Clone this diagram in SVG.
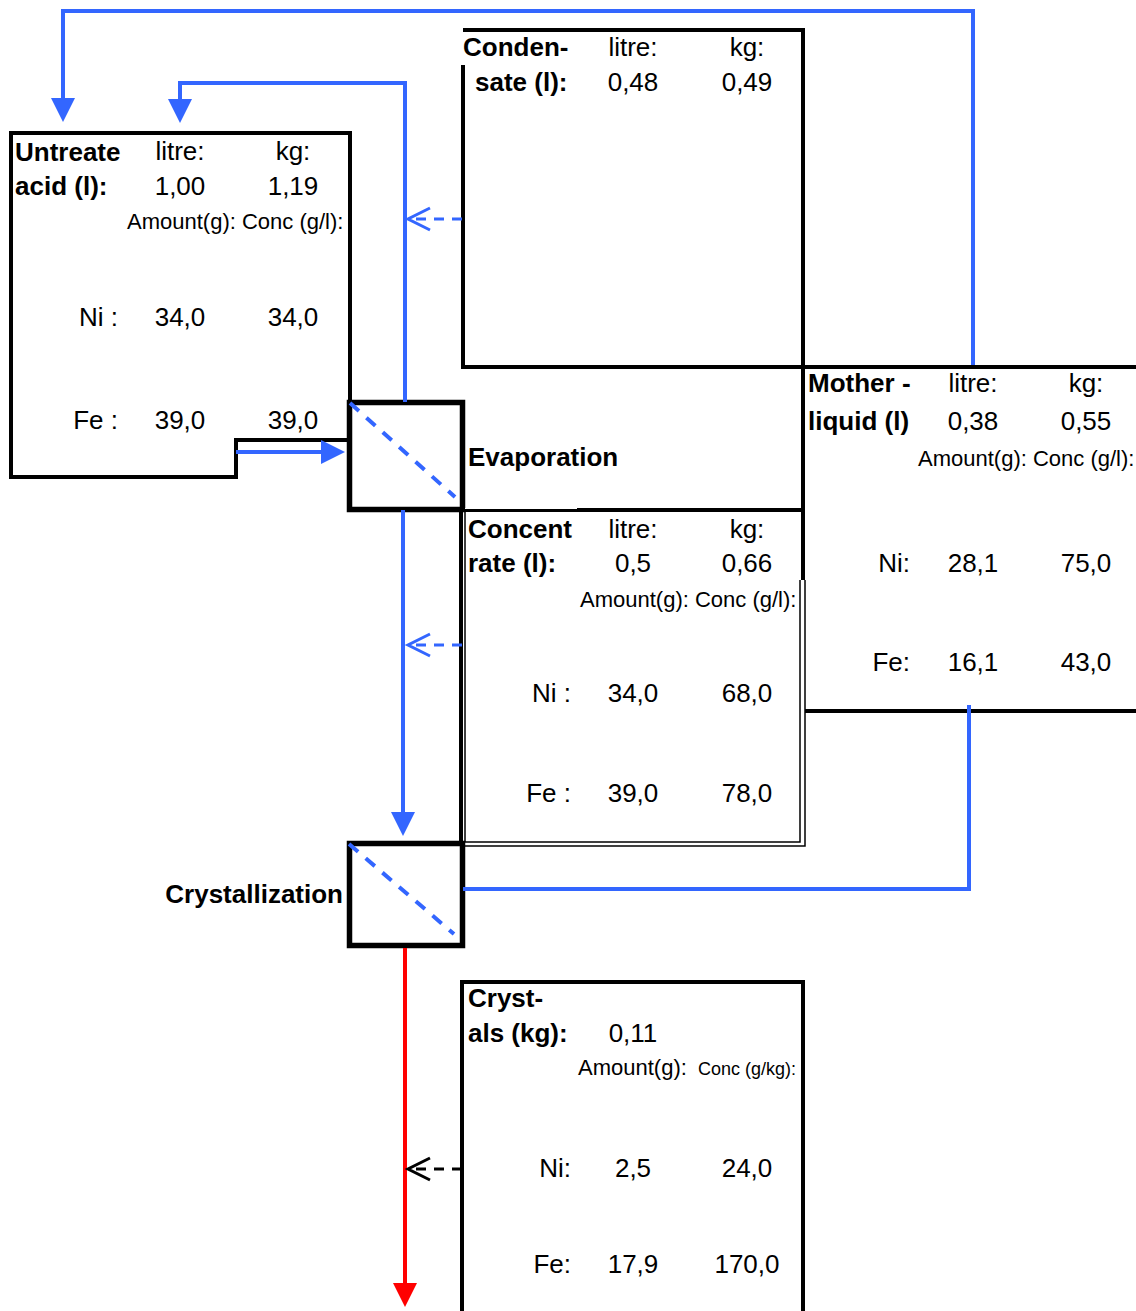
<svg xmlns="http://www.w3.org/2000/svg" width="1136" height="1311" viewBox="0 0 1136 1311">
<style>
text{font-family:"Liberation Sans",Arial,sans-serif;fill:#000}
.b{font-size:26px;font-weight:bold}
.r{font-size:26px}
.s{font-size:22px}
.xs{font-size:18px}
.m{text-anchor:middle}
.e{text-anchor:end}
.box{fill:none;stroke:#000;stroke-width:4}
.thick{fill:none;stroke:#000;stroke-width:5.5}
.thin{fill:none;stroke:#000;stroke-width:1.5}
.bl{fill:none;stroke:#3366FF;stroke-width:4}
.bld{fill:none;stroke:#3366FF;stroke-width:3;stroke-dasharray:10 8}
.diag{fill:none;stroke:#3366FF;stroke-width:4;stroke-dasharray:12 10}
.blh{fill:#3366FF}
.oh{fill:none;stroke:#3366FF;stroke-width:3}
</style>
<rect width="1136" height="1311" fill="#fff"/>

<g id="untreated-acid">
<path class="box" d="M11,133 H350 V440 H236 V477 H11 Z"/>
<text class="b" x="15" y="161">Untreate</text>
<text class="b" x="15" y="195">acid (l):</text>
<text class="r m" x="180" y="160">litre:</text>
<text class="r m" x="293" y="160">kg:</text>
<text class="r m" x="180" y="195">1,00</text>
<text class="r m" x="293" y="195">1,19</text>
<text class="s" x="127" y="229">Amount(g): Conc (g/l):</text>
<text class="r e" x="118" y="326">Ni :</text>
<text class="r m" x="180" y="326">34,0</text>
<text class="r m" x="293" y="326">34,0</text>
<text class="r e" x="118" y="429">Fe :</text>
<text class="r m" x="180" y="429">39,0</text>
<text class="r m" x="293" y="429">39,0</text>
</g>

<g id="condensate">
<path class="box" d="M463,65 V367 H803 V30 H463"/>
<text class="b" x="463" y="56">Conden-</text>
<text class="b" x="475" y="91">sate (l):</text>
<text class="r m" x="633" y="56">litre:</text>
<text class="r m" x="747" y="56">kg:</text>
<text class="r m" x="633" y="91">0,48</text>
<text class="r m" x="747" y="91">0,49</text>
</g>

<g id="evaporation">
<rect class="thick" x="349.5" y="402.5" width="113" height="107"/>
<path class="box" d="M349,510 H803 M803,367 V580"/>
<text class="b" x="468" y="466">Evaporation</text>
</g>

<g id="mother-liquid">
<path class="box" d="M803,367 H1136 M805,711 H1136"/>
<text class="b" x="808" y="392">Mother -</text>
<text class="b" x="808" y="430">liquid (l)</text>
<text class="r m" x="973" y="392">litre:</text>
<text class="r m" x="1086" y="392">kg:</text>
<text class="r m" x="973" y="430">0,38</text>
<text class="r m" x="1086" y="430">0,55</text>
<text class="s" x="918" y="466">Amount(g): Conc (g/l):</text>
<text class="r e" x="910" y="572">Ni:</text>
<text class="r m" x="973" y="572">28,1</text>
<text class="r m" x="1086" y="572">75,0</text>
<text class="r e" x="910" y="671">Fe:</text>
<text class="r m" x="973" y="671">16,1</text>
<text class="r m" x="1086" y="671">43,0</text>
</g>

<g id="concentrate">
<path class="box" d="M461,510 V846"/>
<path class="thin" d="M461,846 H805 V580"/>
<path class="thin" d="M465,512 V842 H800 V580"/>
<path d="M465,508.5 H577" stroke="#fff" stroke-width="1.2"/>
<text class="b" x="468" y="538">Concent</text>
<text class="b" x="468" y="572">rate (l):</text>
<text class="r m" x="633" y="538">litre:</text>
<text class="r m" x="747" y="538">kg:</text>
<text class="r m" x="633" y="572">0,5</text>
<text class="r m" x="747" y="572">0,66</text>
<text class="s" x="580" y="607">Amount(g): Conc (g/l):</text>
<text class="r e" x="571" y="702">Ni :</text>
<text class="r m" x="633" y="702">34,0</text>
<text class="r m" x="747" y="702">68,0</text>
<text class="r e" x="571" y="802">Fe :</text>
<text class="r m" x="633" y="802">39,0</text>
<text class="r m" x="747" y="802">78,0</text>
</g>

<g id="crystallization">
<rect class="thick" x="349.5" y="843.5" width="113" height="102"/>
<text class="b e" x="343" y="903">Crystallization</text>
</g>

<g id="crystals">
<path class="box" d="M462,1311 V982 H803 V1311"/>
<text class="b" x="468" y="1007">Cryst-</text>
<text class="b" x="468" y="1042">als (kg):</text>
<text class="r m" x="633" y="1042">0,11</text>
<text class="s" x="578" y="1075">Amount(g):</text>
<text class="xs" x="698" y="1075">Conc (g/kg):</text>
<text class="r e" x="571" y="1177">Ni:</text>
<text class="r m" x="633" y="1177">2,5</text>
<text class="r m" x="747" y="1177">24,0</text>
<text class="r e" x="571" y="1273">Fe:</text>
<text class="r m" x="633" y="1273">17,9</text>
<text class="r m" x="747" y="1273">170,0</text>
</g>

<g id="connectors">
<path class="diag" d="M350,403 L455,497"/>
<path class="diag" d="M349,844 L454,934"/>
<path class="bl" d="M973,365 V11 H63 V100"/>
<polygon class="blh" points="51,98 75,98 63,122"/>
<path class="bl" d="M405,402 V83 H180 V101"/>
<polygon class="blh" points="168,99 192,99 180,123"/>
<path class="bl" d="M236,452 H322"/>
<polygon class="blh" points="321,440 321,464 345,452"/>
<path class="bl" d="M403,510 V813"/>
<polygon class="blh" points="391,812 415,812 403,836"/>
<path class="bl" d="M969,705 V889 H463"/>
<path class="bld" d="M462,219 H410"/>
<path class="oh" d="M430,208 L408,219 L430,230"/>
<path class="bld" d="M462,645 H410"/>
<path class="oh" d="M430,634 L408,645 L430,656"/>
<path d="M405,948 V1284" fill="none" stroke="#FF0000" stroke-width="4"/>
<polygon fill="#FF0000" points="393,1283 417,1283 405,1307"/>
<path d="M462,1169 H410" fill="none" stroke="#000" stroke-width="3" stroke-dasharray="10 8"/>
<path d="M430,1158 L408,1169 L430,1180" fill="none" stroke="#000" stroke-width="3"/>
</g>
</svg>
